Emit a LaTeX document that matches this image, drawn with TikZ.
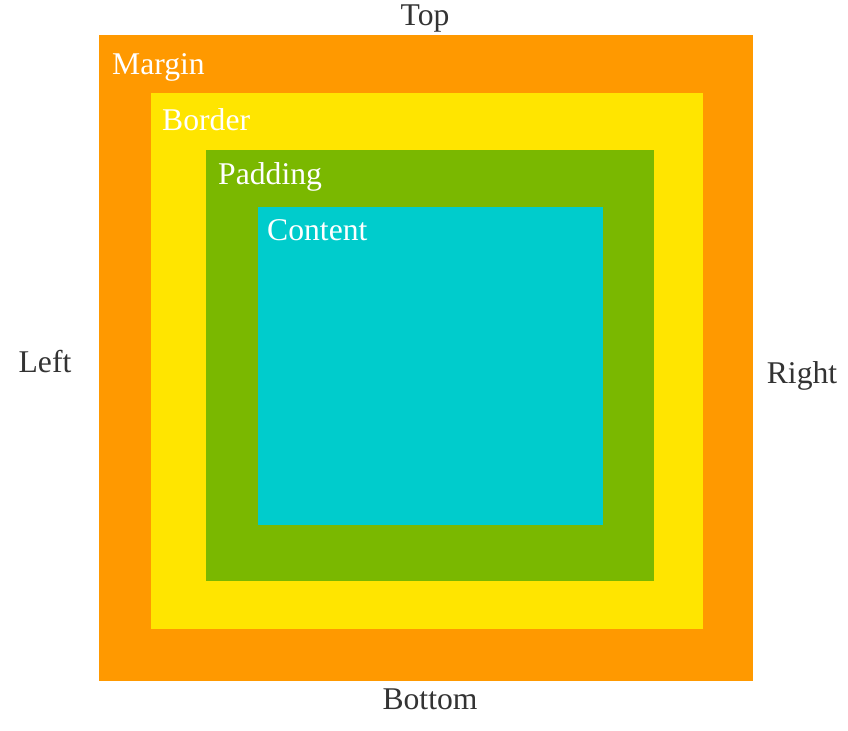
\documentclass[tikz,border=0pt]{standalone}
\usepackage{fontspec}
\setmainfont{Liberation Serif}
\definecolor{marginorange}{HTML}{FF9900}
\definecolor{borderyellow}{HTML}{FFE500}
\definecolor{paddinggreen}{HTML}{7AB800}
\definecolor{contentcyan}{HTML}{00CCCC}
\definecolor{sidegray}{HTML}{333333}
\begin{document}
\begin{tikzpicture}[
    x=0.03cm, y=-0.03cm,
    inlabel/.style={font=\fontsize{27}{30}\selectfont, text=white, anchor=west, inner sep=0pt},
    sidelabel/.style={font=\fontsize{27}{30}\selectfont, text=sidegray, inner sep=0pt}
]
    \useasboundingbox (0,0) rectangle (848,730);
    % nested boxes
    \fill[marginorange] (99,35) rectangle (753,681);
    \fill[borderyellow] (151,93) rectangle (703,629);
    \fill[paddinggreen] (206,150) rectangle (654,581);
    \fill[contentcyan] (258,207) rectangle (603,525);

    \node[inlabel] (margin) at (112,67) {Margin};
    \node[inlabel] (border) at (162,120) {Border};
    \node[inlabel] (padding) at (218,177) {Padding};
    \node[inlabel] (content) at (267,230) {Content};

    % sides
    \node[sidelabel] (top) at (425,19) {Top};
    \node[sidelabel] (bottom) at (430,699) {Bottom};
    \node[sidelabel] (left) at (45,362) {Left};
    \node[sidelabel] (right) at (802,376) {Right};
\end{tikzpicture}
\end{document}
